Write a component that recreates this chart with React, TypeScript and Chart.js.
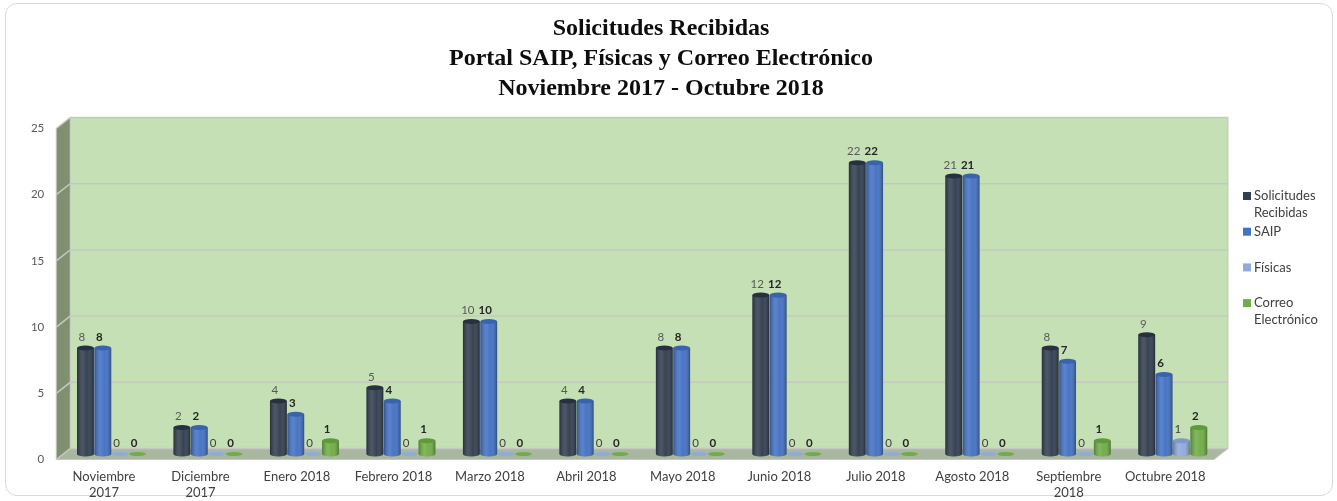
import React, { useEffect, useRef } from "react";
import { Chart, registerables } from "chart.js";

Chart.register(...registerables);

const categories: (string | string[])[] = [
  ["Noviembre", "2017"],
  ["Diciembre", "2017"],
  "Enero 2018",
  "Febrero 2018",
  "Marzo 2018",
  "Abril 2018",
  "Mayo 2018",
  "Junio 2018",
  "Julio 2018",
  "Agosto 2018",
  ["Septiembre", "2018"],
  "Octubre 2018",
];
const solicitudes = [8, 2, 4, 5, 10, 4, 8, 12, 22, 21, 8, 9];
const saip = [8, 2, 3, 4, 10, 4, 8, 12, 22, 21, 7, 6];
const fisicas = [0, 0, 0, 0, 0, 0, 0, 0, 0, 0, 0, 1];
const correo = [0, 0, 1, 1, 0, 0, 0, 0, 0, 0, 1, 2];
const seriesNames = ["Solicitudes Recibidas", "SAIP", "Físicas", "Correo Electrónico"];
const legendLines = [["Solicitudes", "Recibidas"], ["SAIP"], ["Físicas"], ["Correo", "Electrónico"]];
const titleLines = [
  "Solicitudes Recibidas",
  "Portal SAIP, Físicas y Correo Electrónico",
  "Noviembre 2017 - Octubre 2018",
];
const yTicks = [0, 5, 10, 15, 20, 25];

const baseColors = ["#333f50", "#4472c4", "#8faadc", "#70ad47"];
const topColors = ["#263040", "#3a63ad", "#7d98c9", "#5f9a3a"];
const labelColors = ["#595959", "#262626", "#404040", "#262626"];

const DX = 7;
const DY = 5.5;

const threeDPlugin = {
  id: "threeD",
  beforeDatasetsDraw(chart: any) {
    const { ctx, chartArea: a, scales } = chart;
    const ys = scales.y;
    const L = a.left, R = a.right, T = a.top, B = a.bottom;
    ctx.save();
    // left wall
    ctx.fillStyle = "#7f8f6f";
    ctx.beginPath();
    ctx.moveTo(L - DX, T + DY);
    ctx.lineTo(L + DX, T - DY);
    ctx.lineTo(L + DX, B - DY);
    ctx.lineTo(L - DX, B + DY);
    ctx.closePath();
    ctx.fill();
    // back wall
    ctx.fillStyle = "#c5e0b4";
    ctx.fillRect(L + DX, T - DY, R - L, B - T);
    // floor
    ctx.fillStyle = "#a9b7a0";
    ctx.beginPath();
    ctx.moveTo(L - DX, B + DY);
    ctx.lineTo(L + DX, B - DY);
    ctx.lineTo(R + DX, B - DY);
    ctx.lineTo(R - DX, B + DY);
    ctx.closePath();
    ctx.fill();
    // gridlines
    ctx.strokeStyle = "#c4c9c0";
    ctx.lineWidth = 1.5;
    yTicks.forEach((v) => {
      const py = ys.getPixelForValue(v);
      ctx.beginPath();
      ctx.moveTo(L - DX, py + DY);
      ctx.lineTo(L + DX, py - DY);
      ctx.lineTo(R + DX, py - DY);
      ctx.stroke();
    });
    // outlines
    ctx.strokeStyle = "#c4c9c0";
    ctx.lineWidth = 1;
    ctx.strokeRect(L + DX, T - DY, R - L, B - T);
    ctx.beginPath();
    ctx.moveTo(L - DX, T + DY);
    ctx.lineTo(L - DX, B + DY);
    ctx.lineTo(R - DX, B + DY);
    ctx.lineTo(R + DX, B - DY);
    ctx.stroke();
    ctx.restore();
  },
  afterDatasetsDraw(chart: any) {
    const { ctx } = chart;
    ctx.save();
    chart.data.datasets.forEach((ds: any, di: number) => {
      const meta = chart.getDatasetMeta(di);
      meta.data.forEach((bar: any, i: number) => {
        const { x, y, base, width } = bar.getProps(["x", "y", "base", "width"], true);
        const v = ds.data[i];
        const rx = width / 2;
        const ry = 2.5;
        if (v > 0) {
          const g = ctx.createLinearGradient(x - rx, 0, x + rx, 0);
          g.addColorStop(0, "rgba(0,0,0,0.28)");
          g.addColorStop(0.35, "rgba(255,255,255,0.12)");
          g.addColorStop(0.6, "rgba(255,255,255,0.02)");
          g.addColorStop(1, "rgba(0,0,0,0.32)");
          ctx.fillStyle = baseColors[di];
          ctx.beginPath();
          ctx.ellipse(x, base, rx, ry, 0, 0, Math.PI);
          ctx.fill();
          ctx.fillStyle = g;
          ctx.beginPath();
          ctx.ellipse(x, base, rx, ry, 0, 0, Math.PI);
          ctx.fill();
          ctx.fillRect(x - rx, y, width, base - y);
          ctx.fillStyle = topColors[di];
          ctx.beginPath();
          ctx.ellipse(x, y, rx, ry, 0, 0, Math.PI * 2);
          ctx.fill();
        } else {
          ctx.fillStyle = baseColors[di];
          ctx.beginPath();
          ctx.ellipse(x, base, rx, 2, 0, 0, Math.PI * 2);
          ctx.fill();
        }
        ctx.fillStyle = labelColors[di];
        ctx.font = (di === 0 || di === 2 ? "" : "bold ") + "11.5px Lato";
        ctx.textAlign = "center";
        ctx.textBaseline = "middle";
        ctx.fillText(String(v), x - 3.5, y - 11);
      });
    });
    ctx.restore();
  },
  afterDraw(chart: any) {
    const { ctx, chartArea: a } = chart;
    const lx = a.right + 22;
    ctx.save();
    ctx.font = "13px Lato";
    ctx.textAlign = "left";
    ctx.textBaseline = "middle";
    legendLines.forEach((lines, i) => {
      const rowY = a.top + 73 + 35.7 * i;
      ctx.fillStyle = baseColors[i];
      ctx.fillRect(lx, rowY - 4, 8, 8);
      ctx.fillStyle = "#404040";
      lines.forEach((t, k) => ctx.fillText(t, lx + 11, rowY + k * 16.5));
    });
    ctx.restore();
  },
};

export default function App() {
  const ref = useRef<HTMLCanvasElement | null>(null);
  useEffect(() => {
    if (!ref.current) return;
    const series = [solicitudes, saip, fisicas, correo];
    const chart = new Chart(ref.current, {
      type: "bar",
      data: {
        labels: categories,
        datasets: series.map((d, i) => ({
          label: seriesNames[i],
          data: d,
          backgroundColor: baseColors[i],
          borderWidth: 0,
          categoryPercentage: 0.72,
          barPercentage: 0.97,
        })),
      },
      options: {
        responsive: false,
        animation: false,
        layout: { padding: { left: 0, right: 15, top: 0, bottom: 0 } },
        plugins: {
          legend: { display: false },
          tooltip: { enabled: false },
          title: {
            display: true,
            text: titleLines,
            color: "#0d0d0d",
            font: { family: "'Liberation Serif', serif", size: 24, weight: "bold", lineHeight: 30 / 24 },
            padding: { top: 14, bottom: 19 },
          },
        },
        scales: {
          x: {
            grid: { display: false, drawTicks: false },
            border: { display: false },
            ticks: {
              color: "#404040",
              font: { family: "Lato", size: 13, lineHeight: 1.2 },
              padding: 15,
              labelOffset: -7.5,
              autoSkip: false,
              maxRotation: 0,
              minRotation: 0,
            },
            afterFit(s: any) {
              s.height = 47;
            },
          },
          y: {
            min: 0,
            max: 25,
            grid: { display: false, drawTicks: false },
            border: { display: false },
            ticks: {
              stepSize: 5,
              color: "#595959",
              font: { family: "Lato", size: 11.5 },
              padding: 19,
              labelOffset: 5.5,
            },
            afterFit(s: any) {
              s.width = 63.25;
            },
          },
          yR: {
            position: "right",
            display: true,
            grid: { display: false, drawTicks: false },
            border: { display: false },
            ticks: { display: false },
            afterFit(s: any) {
              s.width = 101;
            },
          },
        },
      },
      plugins: [threeDPlugin],
    } as any);
    return () => chart.destroy();
  }, []);

  return (
    <div style={{ position: "fixed", left: 0, top: 0, width: 1337, height: 501, background: "#ffffff" }}>
      <div
        style={{
          position: "absolute",
          left: 5,
          top: 3,
          width: 1328,
          height: 493,
          border: "1px solid #d9d9d9",
          borderRadius: 12,
          boxSizing: "border-box",
        }}
      />
      <canvas ref={ref} width={1337} height={501} style={{ position: "absolute", left: 0, top: 0, width: 1337, height: 501 }} />
    </div>
  );
}
